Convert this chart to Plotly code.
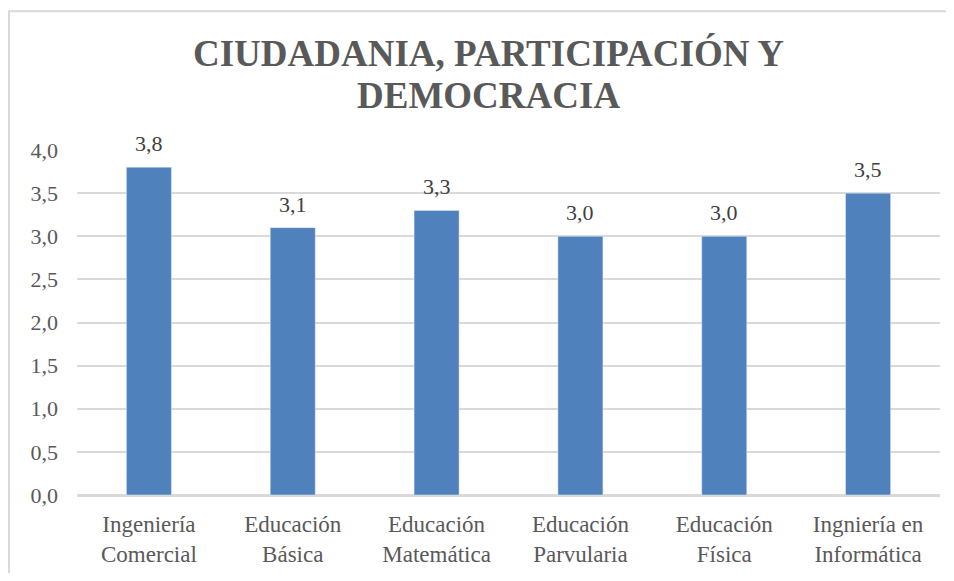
import plotly.graph_objects as go

categorias = ["Ingeniería<br>Comercial", "Educación<br>Básica", "Educación<br>Matemática",
              "Educación<br>Parvularia", "Educación<br>Física", "Ingniería en<br>Informática"]
valores = [3.8, 3.1, 3.3, 3.0, 3.0, 3.5]
y_ticks = [0, 0.5, 1.0, 1.5, 2.0, 2.5, 3.0, 3.5, 4.0]
y_labels = ["0,0", "0,5", "1,0", "1,5", "2,0", "2,5", "3,0", "3,5", "4,0"]
titulo = ["CIUDADANIA, PARTICIPACIÓN Y", "DEMOCRACIA"]

fuente = "Liberation Serif"
gris = "#595959"

fig = go.Figure(go.Bar(
    x=categorias,
    y=valores,
    marker_color="#4F81BD",
    hoverinfo="x+y",
))

# etiquetas de datos sobre las barras
for c, v in zip(categorias, valores):
    fig.add_annotation(x=c, y=v, text=f"{v:.1f}".replace(".", ","),
                       showarrow=False, yanchor="bottom", yshift=9,
                       font=dict(family=fuente, size=22, color="#404040"))

# titulo en dos lineas
for txt, yy in zip(titulo, [1.28, 1.157]):
    fig.add_annotation(xref="paper", yref="paper", x=0.477, y=yy,
                       xanchor="center", yanchor="middle", showarrow=False,
                       text=f"<b>{txt}</b>",
                       font=dict(family=fuente, size=37, color=gris))

fig.update_layout(
    width=938, height=565,
    paper_bgcolor="white", plot_bgcolor="white",
    bargap=0.687,
    showlegend=False,
    margin=dict(l=69, r=6, t=142, b=76),
    font=dict(family=fuente, size=22, color=gris),
)

fig.update_yaxes(
    range=[0, 4.0], tickvals=y_ticks, ticktext=y_labels,
    showgrid=True, gridcolor="#D9D9D9", gridwidth=1.5,
    zeroline=True, zerolinecolor="#D9D9D9", zerolinewidth=1.5,
    tickfont=dict(family=fuente, size=22, color=gris),
    ticks="", ticklabelstandoff=18,
)
fig.update_xaxes(
    showline=True, linecolor="#D9D9D9", linewidth=1.5,
    tickfont=dict(family=fuente, size=23, color=gris),
    ticks="", ticklabelstandoff=8,
)

# borde del grafico
fig.add_shape(type="rect", xref="paper", yref="paper",
              x0=-0.0788, x1=1.2, y0=-0.5, y1=1.402,
              line=dict(color="#D9D9D9", width=2), layer="below")

fig.write_html("out.html")
